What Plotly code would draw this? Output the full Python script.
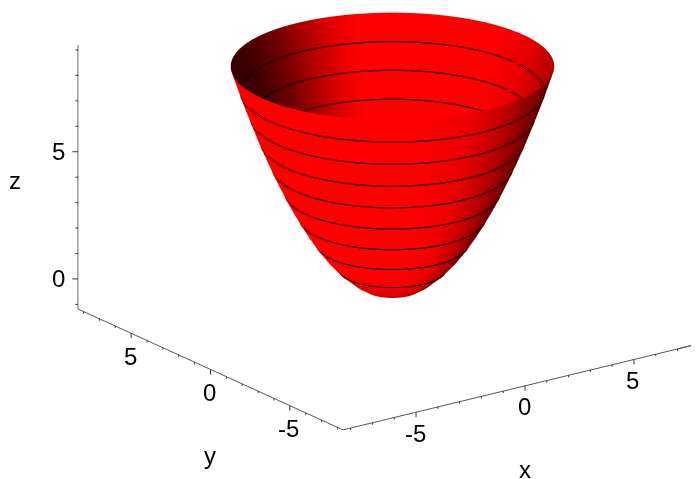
import numpy as np
import plotly.graph_objects as go

# rings of the bowl
ring_z = [0, 0.25, 0.5, 1, 1.5, 2, 2.5, 3, 3.5, 4, 4.5, 5, 5.5, 6, 6.5, 7, 7.5, 8, 8.5, 9]
ring_r = [0, 1, 1.41, 2, 2.45, 2.83, 3.16, 3.46, 3.74, 4, 4.24, 4.47, 4.69, 4.9, 5.1, 5.29, 5.48, 5.66, 5.83, 6]
ring_shade = [0.72, 0.8, 0.86, 0.95, 1, 1, 1, 1, 1, 1, 1, 1, 1, 1, 1, 1, 1, 1, 1, 1]
contour_levels = [1, 8.5, 1]

# brightness round the bowl, degrees from the side facing the viewer (+ is screen right)
outer_angle = [-180, -90, -70, 10, 30, 45, 60, 75, 90, 180]
outer_shade = [0.88, 0.9, 1, 1, 0.92, 0.75, 0.55, 0.4, 0.28, 0.28]
# same for the inside wall, degrees from the far side (+ is screen right)
inner_angle = [-180, -100, -90, -65, -47, -33, -20, -12, 40, 60, 80, 90, 100, 180]
inner_shade = [1, 0.2, 0.2, 0.25, 0.44, 0.7, 0.92, 1, 1, 0.9, 0.75, 0.7, 0.7, 1]

x_range = [-8.35, 8.35]
y_range = [-8.35, 8.35]
z_range = [-1.18, 9.2]
xy_labels = [-5, 0, 5]
z_labels = [0, 5]
xy_ticks = [-8, -7, -6, -5, -4, -3, -2, -1, 0, 1, 2, 3, 4, 5, 6, 7, 8]
z_ticks = [-1, 0, 1, 2, 3, 4, 5, 6, 7, 8, 9]

view = np.array([-0.555, -0.762, 0.332])

theta = np.linspace(0, 2 * np.pi, 181)
r = np.array(ring_r)
X = np.outer(r, np.cos(theta))
Y = np.outer(r, np.sin(theta))
Z = np.outer(np.array(ring_z), np.ones_like(theta))

# angle of each mesh column seen from the camera
front = np.degrees(np.arctan2(view[1], view[0]))
seen = (np.degrees(theta) - front + 180) % 360 - 180
back = (360 - seen) % 360 - 180
outer_color = np.outer(np.array(ring_shade), np.interp(seen, outer_angle, outer_shade))
inner_color = np.outer(np.ones(len(ring_z)), np.interp(back, inner_angle, inner_shade))

# inside wall sits just within the outside one and meets it at the rim
inner_scale = np.ones_like(r) * 0.985
inner_scale[-1] = 1
inner_lift = np.ones_like(r) * 0.02
inner_lift[-1] = 0

flat = dict(ambient=1, diffuse=0, specular=0, roughness=1, fresnel=0)
shades = [[0, '#000000'], [1, '#ff0000']]
rings = dict(z=dict(show=True, start=contour_levels[0], end=contour_levels[1],
                    size=contour_levels[2], color='black', width=1))

fig = go.Figure()
fig.add_trace(go.Surface(x=X, y=Y, z=Z, surfacecolor=outer_color, cmin=0, cmax=1,
                         colorscale=shades, showscale=False, lighting=flat, contours=rings))
fig.add_trace(go.Surface(x=X * inner_scale[:, None], y=Y * inner_scale[:, None],
                         z=Z + inner_lift[:, None], surfacecolor=inner_color, cmin=0, cmax=1,
                         colorscale=shades, showscale=False, lighting=flat, contours=rings))


def axis(rng):
    return dict(range=rng, title=dict(text=''), showticklabels=False, ticks='',
                showgrid=False, zeroline=False, showbackground=False,
                showline=True, linecolor='#555555', linewidth=2, showspikes=False)


def tick(x, y, z, ax, ay, color='#333333'):
    return dict(x=x, y=y, z=z, text=' ', font=dict(size=1), showarrow=True, arrowhead=0,
                arrowwidth=1, arrowcolor=color, standoff=0, ax=ax, ay=ay)


def label(x, y, z, text, xshift, yshift):
    return dict(x=x, y=y, z=z, text=text, showarrow=False, xshift=xshift, yshift=yshift,
                font=dict(size=24, color='black'))


notes = []
for v in xy_ticks:
    length = 7 if v in xy_labels else 4
    notes.append(tick(v, y_range[0], z_range[0], 0, length))
    notes.append(tick(x_range[0], v, z_range[0], 0, length))
for v in z_ticks:
    notes.append(tick(x_range[0], y_range[1], v, -7 if v in z_labels else -4, 0))
for v in xy_labels:
    notes.append(label(v, y_range[0], z_range[0], str(v), -1, -21))
    notes.append(label(x_range[0], v, z_range[0], str(v), -1, -23))
for v in z_labels:
    notes.append(label(x_range[0], y_range[1], v, str(v), -19, 0))
notes.append(label(0, y_range[0], z_range[0], 'x', 0, -84))
notes.append(label(x_range[0], 0, z_range[0], 'y', 0, -86))
notes.append(label(x_range[0], y_range[1], 4, 'z', -63, -3))
# the x axis runs off the right edge of the picture
notes.append(tick(7, y_range[0], z_range[0], 24, -6, '#555555'))

center = np.array([-0.1635, 0.0235, -0.2125])
eye = center + 3 * view

fig.update_layout(
    width=699, height=479,
    margin=dict(l=0, r=0, t=0, b=0),
    paper_bgcolor='white',
    font=dict(family='Liberation Sans'),
    scene=dict(
        domain=dict(x=[0, 1], y=[0, 1]),
        xaxis=axis(x_range),
        yaxis=axis(y_range),
        zaxis=axis(z_range),
        aspectmode='manual',
        aspectratio=dict(x=1.88, y=1.88, z=1.169),
        camera=dict(
            projection=dict(type='orthographic'),
            eye=dict(x=eye[0], y=eye[1], z=eye[2]),
            center=dict(x=center[0], y=center[1], z=center[2]),
            up=dict(x=0, y=0, z=1),
        ),
        annotations=notes,
    ),
)
fig.write_html("out.html")
